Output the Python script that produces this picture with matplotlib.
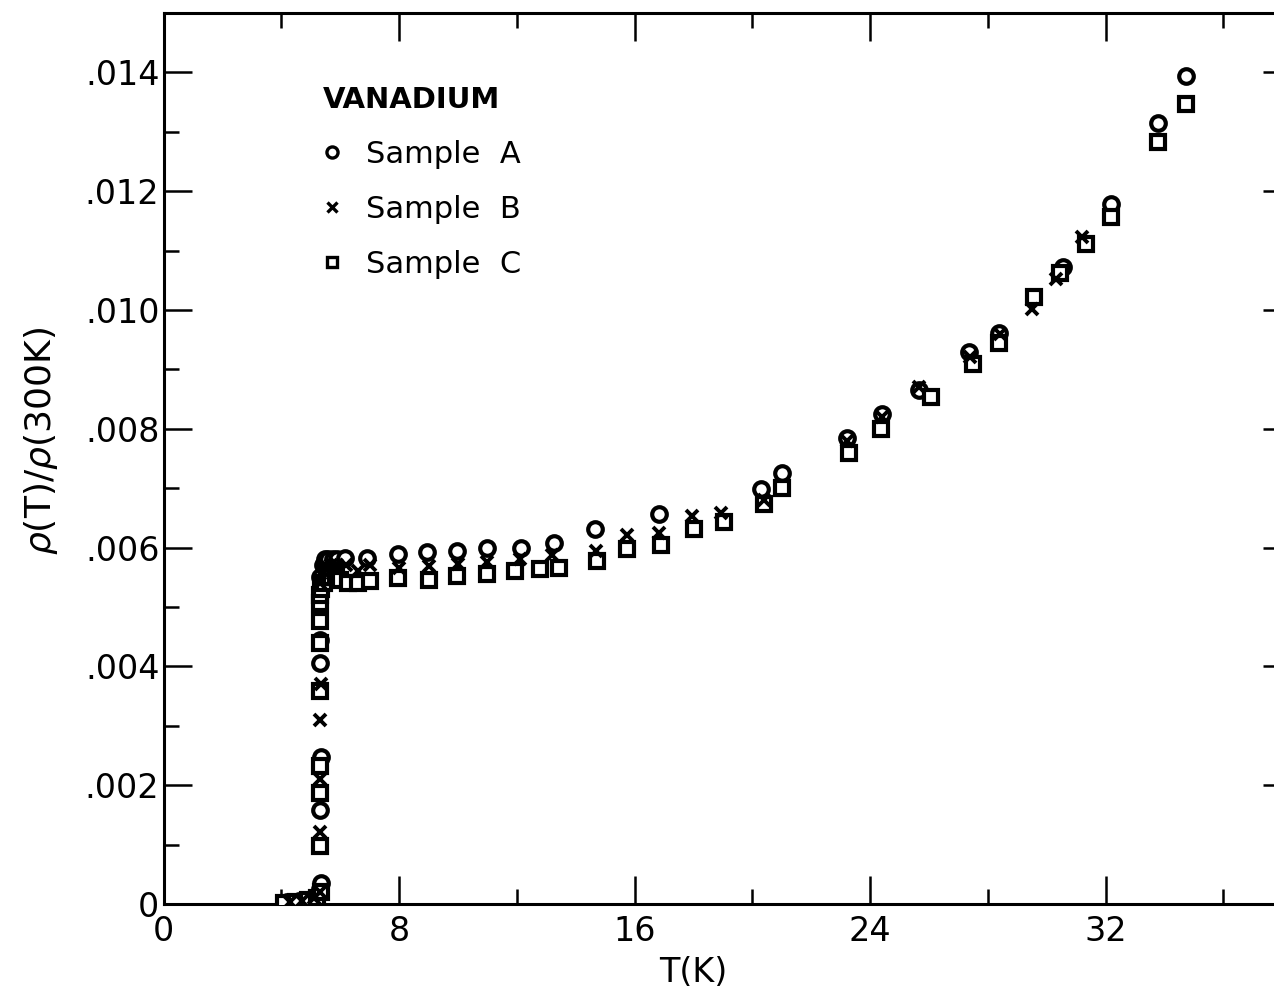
import numpy as np
import matplotlib
matplotlib.use("Agg")
import matplotlib.pyplot as plt
from matplotlib.lines import Line2D
from matplotlib.ticker import MultipleLocator, FuncFormatter

# resistivity ratio rho(T)/rho(300K) of three vanadium samples
temp_a = [4.2, 4.6, 5.0, 5.3, 5.35, 5.33, 5.35, 5.33, 5.33, 5.3, 5.4, 5.5, 5.6, 5.75, 5.9,
          6.17, 6.9, 7.95, 8.95, 9.97, 10.97, 12.15, 13.25, 14.67, 16.83, 20.3, 21.02,
          23.23, 24.42, 25.67, 27.37, 28.39, 30.55, 32.19, 33.78, 34.72]
rho_a = [0.00003, 0.00005, 0.00008, 0.00025, 0.00035, 0.00159, 0.00248, 0.00406, 0.00445,
         0.0055, 0.0057, 0.0058, 0.0058, 0.0058, 0.0058, 0.00582, 0.00583, 0.00589, 0.00592,
         0.00594, 0.00599, 0.00600, 0.00608, 0.00631, 0.00656, 0.00698, 0.00726, 0.00785,
         0.00825, 0.00866, 0.00929, 0.00962, 0.01072, 0.01179, 0.01315, 0.01394]

temp_b = [4.3, 4.7, 5.1, 5.3, 5.33, 5.32, 5.33, 5.34, 5.3, 5.4, 5.5, 5.7, 5.9, 6.2, 6.62,
          7.0, 8.0, 9.0, 10.0, 11.0, 12.1, 13.2, 14.7, 15.75, 16.83, 17.96, 18.93, 20.4,
          23.23, 24.42, 25.67, 27.4, 28.4, 29.5, 30.32, 31.2]
rho_b = [0.00003, 0.00005, 0.0001, 0.0002, 0.00122, 0.0021, 0.0031, 0.0037, 0.0054, 0.0056,
         0.0057, 0.0057, 0.0057, 0.0057, 0.0056, 0.0057, 0.00566, 0.00569, 0.00572, 0.00575,
         0.0058, 0.00588, 0.00594, 0.00622, 0.00625, 0.00653, 0.00659, 0.0068, 0.0078,
         0.0082, 0.0087, 0.0092, 0.0096, 0.01002, 0.01052, 0.01123]

temp_c = [4.1, 4.5, 4.9, 5.2, 5.35, 5.32, 5.33, 5.32, 5.33, 5.32, 5.33, 5.32, 5.3, 5.35,
          5.45, 5.55, 5.7, 5.85, 6.0, 6.28, 6.62, 7.02, 7.98, 9.0, 9.97, 10.99, 11.95,
          12.78, 13.43, 14.71, 15.75, 16.88, 18.02, 19.04, 20.4, 21.02, 23.29, 24.37, 26.07,
          27.49, 28.39, 29.58, 30.45, 31.34, 32.19, 33.78, 34.72]
rho_c = [0.00002, 0.00004, 0.00006, 0.0001, 0.0002, 0.00097, 0.00187, 0.00232, 0.00358,
         0.0044, 0.00476, 0.00507, 0.0052, 0.0053, 0.0054, 0.0055, 0.0055, 0.0055, 0.00545,
         0.00541, 0.00541, 0.00544, 0.00549, 0.00546, 0.00552, 0.00555, 0.0056, 0.00564,
         0.00566, 0.00577, 0.00597, 0.00605, 0.00632, 0.00643, 0.00673, 0.00701, 0.0076,
         0.0080, 0.00853, 0.00909, 0.00945, 0.01022, 0.01062, 0.01111, 0.01156, 0.01282,
         0.01347]

sample_labels = ["Sample  A", "Sample  B", "Sample  C"]

plt.rcParams['font.family'] = ['DejaVu Sans']

fig = plt.figure(figsize=(12.74, 9.98), dpi=100)
ax = fig.add_axes([0.1284, 0.0942, 0.885, 0.8928])

mk_a = dict(marker='o', ms=10.5, mew=3.0, mfc='white', mec='black', ls='none')
mk_b = dict(marker='x', ms=8.5, mew=2.8, color='black', ls='none')
mk_c = dict(marker='s', ms=10, mew=3.0, mfc='white', mec='black', ls='none')

ax.plot(temp_a, rho_a, zorder=3, **mk_a)
ax.plot(temp_c, rho_c, zorder=4, **mk_c)
ax.plot(temp_b, rho_b, zorder=5, **mk_b)

ax.set_xlim(0, 38.3)
ax.set_ylim(0, 0.015)

ax.xaxis.set_major_locator(MultipleLocator(8))
ax.xaxis.set_minor_locator(MultipleLocator(4))
ax.yaxis.set_major_locator(MultipleLocator(0.002))
ax.yaxis.set_minor_locator(MultipleLocator(0.001))
ax.yaxis.set_major_formatter(FuncFormatter(
    lambda v, p: '0' if abs(v) < 1e-9 else f'{v:.3f}'.lstrip('0')))

ax.tick_params(which='both', direction='in', top=True, right=True, width=1.8)
ax.tick_params(which='major', length=20)
ax.tick_params(which='minor', length=11)
ax.tick_params(axis='x', labelsize=24, pad=8)
ax.tick_params(axis='y', labelsize=24, pad=3)
for s in ax.spines.values():
    s.set_linewidth(2.2)

ax.set_xlabel('T(K)', fontsize=24)
ax.xaxis.set_label_coords(0.47, -0.058)
ax.set_ylabel(r'$\rho$(T)/$\rho$(300K)', fontsize=26)
ax.yaxis.set_label_coords(-0.092, 0.52)

# legend keys are drawn slightly smaller than the data markers
leg_a = dict(mk_a, ms=8, mew=2.4)
leg_b = dict(mk_b, ms=7, mew=2.4)
leg_c = dict(mk_c, ms=7.5, mew=2.4)
handles = [Line2D([], [], **leg_a), Line2D([], [], **leg_b), Line2D([], [], **leg_c)]
leg = ax.legend(handles, sample_labels, title='VANADIUM', loc='upper left',
                bbox_to_anchor=(0.128, 0.935), frameon=False, fontsize=22,
                title_fontsize=21, handlelength=0.6, handletextpad=0.8,
                labelspacing=0.85, borderpad=0, alignment='left')
leg.get_title().set_fontweight('bold')

fig.savefig('out.png', dpi=100)
